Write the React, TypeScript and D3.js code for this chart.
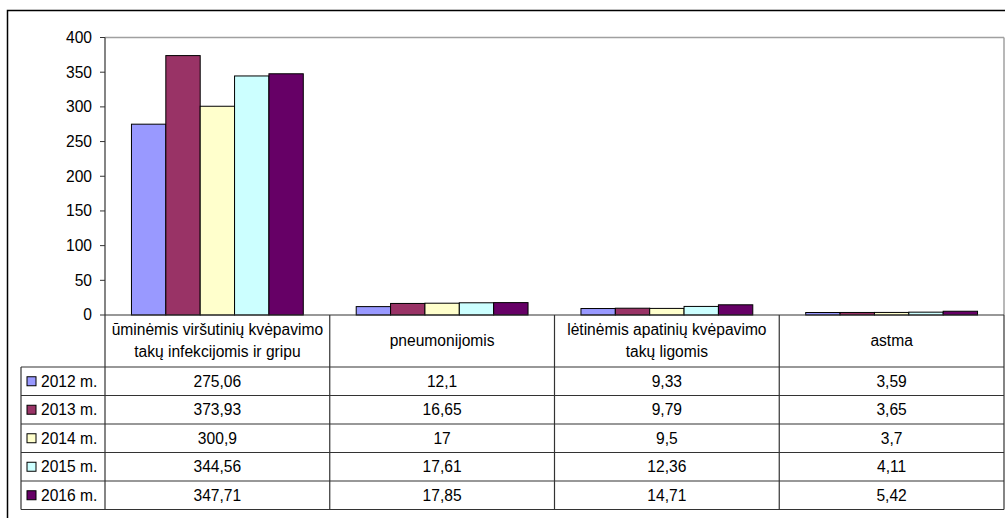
import React from "react";
import * as d3 from "d3";

const categories = [
  "ūminėmis viršutinių kvėpavimo\ntakų infekcijomis ir gripu",
  "pneumonijomis",
  "lėtinėmis apatinių kvėpavimo\ntakų ligomis",
  "astma",
];
const series = ["2012 m.", "2013 m.", "2014 m.", "2015 m.", "2016 m."];
const values2012 = [275.06, 12.1, 9.33, 3.59];
const values2013 = [373.93, 16.65, 9.79, 3.65];
const values2014 = [300.9, 17, 9.5, 3.7];
const values2015 = [344.56, 17.61, 12.36, 4.11];
const values2016 = [347.71, 17.85, 14.71, 5.42];
const seriesValues = [values2012, values2013, values2014, values2015, values2016];
const colors = ["#9999FF", "#993366", "#FFFFCC", "#CCFFFF", "#660066"];
const yTicks = [0, 50, 100, 150, 200, 250, 300, 350, 400];

const W = 1005;
const H = 518;
const plotLeft = 105;
const plotRight = 1004;
const plotTop = 37.5;
const plotBottom = 315;
const headerBottom = 367;
const rowH = 28.5;
const legendLeft = 21;
const font = "'Liberation Sans', Arial, sans-serif";
const fs = 15.6;

const fmt = (v: number) => String(v).replace(".", ",");

export default function App() {
  const x0 = d3.scaleBand<string>().domain(categories).range([plotLeft, plotRight]).paddingInner(0).paddingOuter(0);
  const x1 = d3.scaleBand<string>().domain(series).range([0, x0.bandwidth()]).paddingInner(0).paddingOuter(0.77);
  const y = d3.scaleLinear().domain([0, 400]).range([plotBottom, plotTop]);
  const tableBottom = headerBottom + rowH * series.length;
  const lineColor = "#333";

  return (
    <svg width={W} height={H} style={{ position: "absolute", left: 0, top: 0, background: "#fff" }} fontFamily={font}>
      <rect x={0} y={0} width={W} height={H} fill="#fff" />
      {/* outer chart border */}
      <rect x={7.5} y={10.5} width={W + 10} height={H + 10} fill="none" stroke="#000" strokeWidth={1.5} />
      {/* plot area border (gray top/right) */}
      <line x1={plotLeft} x2={plotRight} y1={plotTop} y2={plotTop} stroke="#a0a0a0" strokeWidth={1.5} />
      <line x1={plotRight} x2={plotRight} y1={plotTop} y2={plotBottom} stroke="#a0a0a0" strokeWidth={1.5} />
      {/* bars */}
      {seriesValues.map((vals, si) =>
        vals.map((v, ci) => (
          <rect
            key={`${si}-${ci}`}
            x={(x0(categories[ci]) as number) + (x1(series[si]) as number)}
            y={y(v)}
            width={x1.bandwidth()}
            height={plotBottom - y(v)}
            fill={colors[si]}
            stroke="#000"
            strokeWidth={1}
          />
        ))
      )}
      {/* y axis */}
      <line x1={plotLeft} x2={plotLeft} y1={plotTop} y2={tableBottom} stroke={lineColor} strokeWidth={1.2} />
      {yTicks.map((t) => (
        <g key={t}>
          <line x1={plotLeft - 5} x2={plotLeft} y1={y(t)} y2={y(t)} stroke={lineColor} strokeWidth={1} />
          <text x={92} y={y(t)} dy="0.35em" textAnchor="end" fontSize={fs} fill="#000">
            {t}
          </text>
        </g>
      ))}
      {/* x axis */}
      <line x1={plotLeft} x2={plotRight} y1={plotBottom} y2={plotBottom} stroke={lineColor} strokeWidth={1.2} />
      {/* table grid */}
      {categories.map((c, ci) => (
        <line
          key={`v${ci}`}
          x1={(x0(c) as number) + x0.bandwidth()}
          x2={(x0(c) as number) + x0.bandwidth()}
          y1={plotBottom}
          y2={tableBottom}
          stroke={lineColor}
          strokeWidth={1.2}
        />
      ))}
      <line x1={legendLeft} x2={legendLeft} y1={headerBottom} y2={tableBottom} stroke={lineColor} strokeWidth={1.2} />
      {series.map((s, si) => (
        <line
          key={`h${si}`}
          x1={legendLeft}
          x2={plotRight}
          y1={headerBottom + rowH * si}
          y2={headerBottom + rowH * si}
          stroke={lineColor}
          strokeWidth={1.2}
        />
      ))}
      <line x1={legendLeft} x2={plotRight} y1={tableBottom} y2={tableBottom} stroke={lineColor} strokeWidth={1.2} />
      {/* category labels */}
      {categories.map((c, ci) => {
        const lines = c.split("\n");
        const cx = (x0(c) as number) + x0.bandwidth() / 2;
        const cy = (plotBottom + headerBottom) / 2 - 0.5;
        const lh = 21.5;
        return (
          <text key={`c${ci}`} x={cx} textAnchor="middle" fontSize={fs} fill="#000">
            {lines.map((l, li) => (
              <tspan key={li} x={cx} y={cy + (li - (lines.length - 1) / 2) * lh} dy="0.35em">
                {l}
              </tspan>
            ))}
          </text>
        );
      })}
      {/* rows */}
      {series.map((s, si) => {
        const cy = headerBottom + rowH * si + rowH / 2;
        return (
          <g key={`r${si}`}>
            <rect x={27} y={cy - 4.5} width={9} height={9} fill={colors[si]} stroke="#000" strokeWidth={1} />
            <text x={41} y={cy} dy="0.35em" fontSize={fs} fill="#000">
              {s}
            </text>
            {categories.map((c, ci) => (
              <text
                key={ci}
                x={(x0(c) as number) + x0.bandwidth() / 2}
                y={cy}
                dy="0.35em"
                textAnchor="middle"
                fontSize={fs}
                fill="#000"
              >
                {fmt(seriesValues[si][ci])}
              </text>
            ))}
          </g>
        );
      })}
    </svg>
  );
}
